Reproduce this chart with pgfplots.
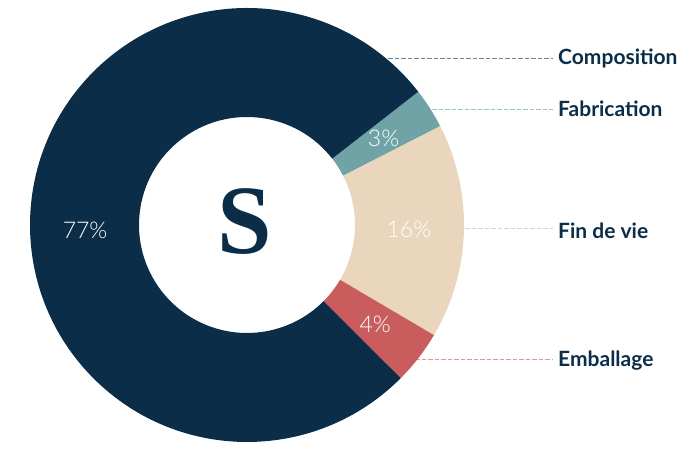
\documentclass[border=0pt]{standalone}
\usepackage{pgfplots}
\pgfplotsset{compat=1.18}
\usepackage{fontspec}
\usetikzlibrary{calc}
\newfontfamily\labelfont{Lato}
\newfontfamily\pctfont{Lato Light}
\newfontfamily\logofont{Liberation Serif}
\definecolor{cComp}{HTML}{0C2D48}
\definecolor{cFab}{HTML}{70A3A5}
\definecolor{cFin}{HTML}{E9D6BC}
\definecolor{cEmb}{HTML}{C95D5D}
\definecolor{lComp}{HTML}{6F8091}
\definecolor{lFab}{HTML}{9CC3C5}
\definecolor{lFin}{HTML}{E6D3B8}
\definecolor{lEmb}{HTML}{E69494}

% one slice of the ring: value (%), colour, angle of its label
\newcommand\slice[3]{%
  \pgfmathsetmacro\b{\a-3.6*#1}%
  \edef\temp{\noexpand\fill[#2] ($(axis cs:247,225)+(\a:217bp)$)
    arc[start angle=\a,end angle=\b,radius=217bp]
    -- ($(axis cs:247,225)+(\b:108bp)$)
    arc[start angle=\b,end angle=\a,radius=108bp] -- cycle;
    \noexpand\node[pct] at ($(axis cs:247,225)+(#3:162bp)$) {#1\noexpand\%};}%
  \temp
  \xdef\a{\b}%
}

\begin{document}
\begin{tikzpicture}[
  pct/.style={text=white,inner sep=0pt,font=\pctfont\fontsize{23bp}{25bp}\selectfont},
  lab/.style={text=cComp,anchor=west,inner sep=0pt,font=\labelfont\bfseries\fontsize{21bp}{24bp}\selectfont},
  lead/.style={line width=1bp,dash pattern=on 4.5bp off 2bp}]
\begin{axis}[name=ax,scale only axis,width=696bp,height=450bp,
  xmin=0,xmax=696,ymin=0,ymax=450,hide axis,clip=false]
% leader lines
\draw[lead,lComp] (axis cs:388,391) -- (axis cs:553,391);
\draw[lead,lFab]  (axis cs:432,340) -- (axis cs:553,340);
\draw[lead,lFin]  (axis cs:465,221) -- (axis cs:553,221);
\draw[lead,lEmb]  (axis cs:415,90)  -- (axis cs:553,90);
% ring, clockwise from the top edge of Fabrication
\def\a{37.9}
\slice{3}{cFab}{32.5}
\slice{16}{cFin}{-1.7}
\slice{4}{cEmb}{-37.7}
\slice{77}{cComp}{182}
% centre letter
\node[text=cComp,inner sep=0pt] at (axis cs:245,228.5)
  {\logofont\bfseries\fontsize{98bp}{98bp}\selectfont S};
% labels
\node[lab] at (axis cs:558,392) {Composition};
\node[lab] at (axis cs:558,341) {Fabrication};
\node[lab] at (axis cs:558,219) {Fin de vie};
\node[lab] at (axis cs:558,89)  {Emballage};
\end{axis}
\pgfresetboundingbox
\useasboundingbox (ax.south west) rectangle (ax.north east);
\end{tikzpicture}
\end{document}
